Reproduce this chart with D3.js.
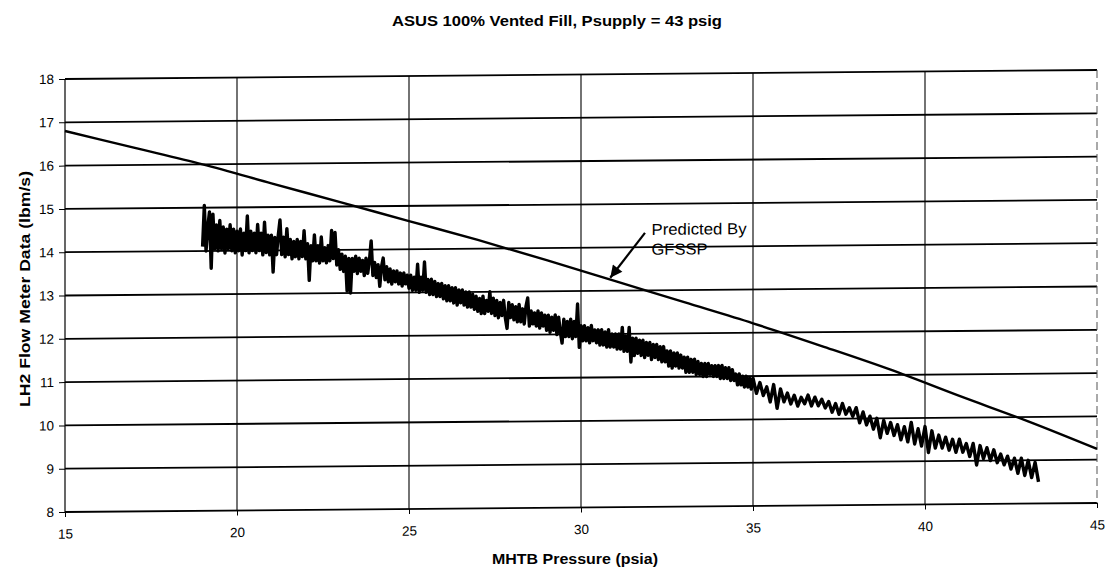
<!DOCTYPE html>
<html>
<head>
<meta charset="utf-8">
<script src="https://cdn.jsdelivr.net/npm/d3@7"></script>
<style>
  body { margin: 0; background: #fff; }
  svg { display: block; }
  text { font-family: "Liberation Sans", Arial, sans-serif; fill: #000; }
</style>
</head>
<body>
<div id="chart"></div>
<script>
// GFSSP prediction
var predP = [15, 17, 19, 21, 23, 25, 27, 29, 31, 33, 35, 37, 39, 41, 43, 45];
var predF = [16.8, 16.4, 16.0, 15.55, 15.1, 14.65, 14.2, 13.72, 13.22, 12.72, 12.22, 11.68, 11.12, 10.5, 9.9, 9.25];

// flow meter trace (denser where the noise band is widest)
var measP = [
  19.00, 19.05, 19.10, 19.15, 19.20, 19.25, 19.30, 19.35, 19.40, 19.45,
  19.50, 19.55, 19.60, 19.65, 19.70, 19.75, 19.80, 19.85, 19.90, 19.95,
  20.00, 20.05, 20.10, 20.15, 20.20, 20.25, 20.30, 20.35, 20.40, 20.45,
  20.50, 20.55, 20.60, 20.65, 20.70, 20.75, 20.80, 20.85, 20.90, 20.95,
  21.00, 21.05, 21.10, 21.15, 21.20, 21.25, 21.30, 21.35, 21.40, 21.45,
  21.50, 21.55, 21.60, 21.65, 21.70, 21.75, 21.80, 21.85, 21.90, 21.95,
  22.00, 22.05, 22.10, 22.15, 22.20, 22.25, 22.30, 22.35, 22.40, 22.45,
  22.50, 22.55, 22.60, 22.65, 22.70, 22.75, 22.80, 22.85, 22.90, 22.95,
  23.00, 23.05, 23.10, 23.15, 23.20, 23.25, 23.30, 23.35, 23.40, 23.45,
  23.50, 23.55, 23.60, 23.65, 23.70, 23.75, 23.80, 23.85, 23.90, 23.95,
  24.00, 24.05, 24.10, 24.15, 24.20, 24.25, 24.30, 24.35, 24.40, 24.45,
  24.50, 24.55, 24.60, 24.65, 24.70, 24.75, 24.80, 24.85, 24.90, 24.95,
  25.00, 25.05, 25.10, 25.15, 25.20, 25.25, 25.30, 25.35, 25.40, 25.45,
  25.50, 25.55, 25.60, 25.65, 25.70, 25.75, 25.80, 25.85, 25.90, 25.95,
  26.00, 26.05, 26.10, 26.15, 26.20, 26.25, 26.30, 26.35, 26.40, 26.45,
  26.50, 26.55, 26.60, 26.65, 26.70, 26.75, 26.80, 26.85, 26.90, 26.95,
  27.00, 27.05, 27.10, 27.15, 27.20, 27.25, 27.30, 27.35, 27.40, 27.45,
  27.50, 27.55, 27.60, 27.65, 27.70, 27.75, 27.80, 27.85, 27.90, 27.95,
  28.00, 28.05, 28.10, 28.15, 28.20, 28.25, 28.30, 28.35, 28.40, 28.45,
  28.50, 28.55, 28.60, 28.65, 28.70, 28.75, 28.80, 28.85, 28.90, 28.95,
  29.00, 29.05, 29.10, 29.15, 29.20, 29.25, 29.30, 29.35, 29.40, 29.45,
  29.50, 29.55, 29.60, 29.65, 29.70, 29.75, 29.80, 29.85, 29.90, 29.95,
  30.00, 30.05, 30.10, 30.15, 30.20, 30.25, 30.30, 30.35, 30.40, 30.45,
  30.50, 30.55, 30.60, 30.65, 30.70, 30.75, 30.80, 30.85, 30.90, 30.95,
  31.00, 31.05, 31.10, 31.15, 31.20, 31.25, 31.30, 31.35, 31.40, 31.45,
  31.50, 31.55, 31.60, 31.65, 31.70, 31.75, 31.80, 31.85, 31.90, 31.95,
  32.00, 32.05, 32.10, 32.15, 32.20, 32.25, 32.30, 32.35, 32.40, 32.45,
  32.50, 32.55, 32.60, 32.65, 32.70, 32.75, 32.80, 32.85, 32.90, 32.95,
  33.00, 33.05, 33.10, 33.15, 33.20, 33.25, 33.30, 33.35, 33.40, 33.45,
  33.50, 33.55, 33.60, 33.65, 33.70, 33.75, 33.80, 33.85, 33.90, 33.95,
  34.00, 34.05, 34.10, 34.15, 34.20, 34.25, 34.30, 34.35, 34.40, 34.45,
  34.50, 34.55, 34.60, 34.65, 34.70, 34.75, 34.80, 34.85, 34.90, 34.95,
  35.0, 35.1, 35.2, 35.3, 35.4, 35.5, 35.6, 35.7, 35.8, 35.9,
  36.0, 36.1, 36.2, 36.3, 36.4, 36.5, 36.6, 36.7, 36.8, 36.9,
  37.0, 37.1, 37.2, 37.3, 37.4, 37.5, 37.6, 37.7, 37.8, 37.9,
  38.0, 38.1, 38.2, 38.3, 38.4, 38.5, 38.6, 38.7, 38.8, 38.9,
  39.0, 39.1, 39.2, 39.3, 39.4, 39.5, 39.6, 39.7, 39.8, 39.9,
  40.0, 40.1, 40.2, 40.3, 40.4, 40.5, 40.6, 40.7, 40.8, 40.9,
  41.0, 41.1, 41.2, 41.3, 41.4, 41.5, 41.6, 41.7, 41.8, 41.9,
  42.0, 42.1, 42.2, 42.3, 42.4, 42.5, 42.6, 42.7, 42.8, 42.9,
  43.0, 43.1, 43.2, 43.3
];
var measF = [
  14.1, 15.05, 14.0, 14.55, 14.9, 13.6, 14.85, 14.05, 14.6, 14.0,
  14.7, 14.05, 14.55, 13.95, 14.5, 14.05, 14.6, 14.0, 14.5, 13.95,
  14.45, 14.0, 14.5, 13.9, 14.4, 14.0, 14.8, 13.95, 14.45, 14.0,
  14.4, 13.95, 14.6, 14.0, 14.4, 13.9, 14.65, 13.95, 14.35, 13.9,
  14.35, 13.5, 14.3, 13.9, 14.35, 14.7, 13.9, 14.3, 13.85, 14.5,
  13.9, 14.25, 13.8, 14.2, 13.85, 14.25, 13.8, 14.2, 13.85, 14.45,
  13.8, 14.15, 13.3, 14.1, 13.75, 14.35, 13.75, 14.1, 13.7, 14.3,
  13.75, 14.05, 13.7, 14.1, 13.75, 14.45, 13.8, 14.4, 13.65, 14.0,
  13.55, 13.9, 13.5, 13.85, 13.05, 13.8, 13.0, 13.8, 13.5, 13.85,
  13.45, 13.8, 13.5, 13.75, 13.4, 13.8, 13.45, 13.75, 14.2, 13.4,
  13.7, 13.35, 13.65, 13.15, 13.6, 13.8, 13.3, 13.6, 13.25, 13.55,
  13.2, 13.5, 13.25, 13.5, 13.2, 13.45, 13.15, 13.45, 13.2, 13.4,
  13.1, 13.4, 13.05, 13.35, 13.05, 13.65, 13.0, 13.35, 13.05, 13.7,
  13.0, 13.3, 12.95, 13.3, 12.95, 13.25, 12.9, 13.2, 12.9, 13.2,
  12.85, 13.15, 12.8, 13.15, 12.8, 13.1, 12.75, 13.1, 12.7, 13.05,
  12.75, 13.05, 12.7, 13.0, 12.65, 13.0, 12.65, 12.95, 12.6, 12.9,
  12.55, 12.85, 12.5, 12.9, 12.5, 12.8, 12.55, 13.0, 12.5, 12.85,
  12.45, 12.8, 12.4, 12.75, 12.45, 12.8, 12.4, 12.15, 12.75, 12.4,
  12.7, 12.35, 12.65, 12.3, 12.7, 12.3, 12.6, 12.25, 12.65, 12.85,
  12.2, 12.55, 12.25, 12.5, 12.2, 12.55, 12.15, 12.5, 12.2, 12.45,
  12.1, 12.45, 12.05, 12.4, 12.1, 12.45, 12.0, 12.4, 12.05, 11.8,
  12.35, 11.95, 12.3, 11.95, 12.35, 11.9, 12.3, 11.95, 12.7, 11.7,
  12.2, 11.85, 12.2, 11.85, 12.15, 11.8, 12.2, 11.85, 12.1, 11.8,
  12.1, 11.75, 12.1, 11.75, 12.05, 11.7, 12.1, 11.7, 12.0, 11.7,
  12.0, 11.65, 12.0, 11.65, 12.15, 11.6, 11.95, 11.6, 12.15, 11.35,
  11.9, 11.5, 11.9, 11.55, 11.85, 11.5, 11.85, 11.45, 11.8, 11.5,
  11.8, 11.4, 11.75, 11.45, 11.75, 11.4, 11.7, 11.35, 11.7, 11.35,
  11.6, 11.25, 11.6, 11.2, 11.55, 11.25, 11.55, 11.2, 11.5, 11.2,
  11.45, 11.1, 11.45, 11.1, 11.4, 11.1, 11.4, 11.05, 11.35, 11.05,
  11.3, 11.0, 11.3, 11.0, 11.3, 11.05, 11.25, 11.0, 11.25, 11.0,
  11.25, 10.95, 11.25, 10.95, 11.2, 10.95, 11.2, 10.9, 11.15, 10.9,
  11.05, 10.8, 11.05, 10.8, 11.0, 10.75, 11.0, 10.75, 10.95, 10.7,
  10.95, 10.6, 10.85, 10.55, 10.75, 10.4, 10.8, 10.25, 10.7, 10.4,
  10.6, 10.35, 10.55, 10.3, 10.5, 10.35, 10.55, 10.3, 10.5, 10.3,
  10.45, 10.25, 10.4, 10.15, 10.35, 10.1, 10.35, 10.1, 10.25, 10.05,
  10.25, 9.9, 10.15, 9.85, 10.05, 9.75, 10.0, 9.55, 9.95, 9.65,
  9.9, 9.6, 9.85, 9.5, 9.8, 9.45, 9.9, 9.4, 9.75, 9.35,
  9.8, 9.2, 9.7, 9.3, 9.6, 9.3, 9.55, 9.25, 9.5, 9.2,
  9.5, 9.2, 9.4, 9.1, 9.4, 8.9, 9.35, 9.05, 9.3, 9.0,
  9.25, 8.95, 9.15, 8.9, 9.1, 8.8, 9.05, 8.7, 9.05, 8.65,
  9.0, 8.6, 8.95, 8.5
];

var xTicks = [15, 20, 25, 30, 35, 40, 45];
var yTicks = [8, 9, 10, 11, 12, 13, 14, 15, 16, 17, 18];

var w = 1107;
var h = 575;
var plotLeft = 65, plotRight = 1097, plotTop = 79, plotBottom = 512;

var svg = d3.select("#chart")
            .append("svg")
            .attr("width", w)
            .attr("height", h);

var x = d3.scaleLinear().domain([15, 45]).range([plotLeft, plotRight]);
var y = d3.scaleLinear().domain([8, 18]).range([plotBottom, plotTop]);

// the scanned page is slightly tilted, right side higher
var g = svg.append("g")
           .attr("transform", "translate(" + plotLeft + ",0) skewY(-0.5) translate(" + (-plotLeft) + ",0)");

// horizontal grid
g.selectAll("line.hgrid")
  .data(yTicks)
  .enter()
  .append("line")
  .attr("class", "hgrid")
  .attr("x1", plotLeft)
  .attr("x2", plotRight)
  .attr("y1", function(d) { return y(d); })
  .attr("y2", function(d) { return y(d); })
  .attr("stroke", "#000")
  .attr("stroke-width", 1.8);

// vertical grid
g.selectAll("line.vgrid")
  .data(xTicks.slice(1, -1))
  .enter()
  .append("line")
  .attr("class", "vgrid")
  .attr("x1", function(d) { return x(d); })
  .attr("x2", function(d) { return x(d); })
  .attr("y1", plotTop)
  .attr("y2", plotBottom)
  .attr("stroke", "#000")
  .attr("stroke-width", 1.1);

// left axis and faint right border
g.append("line")
  .attr("x1", plotLeft).attr("x2", plotLeft)
  .attr("y1", plotTop).attr("y2", plotBottom)
  .attr("stroke", "#000")
  .attr("stroke-width", 1.2);

g.append("line")
  .attr("x1", plotRight).attr("x2", plotRight)
  .attr("y1", plotTop).attr("y2", plotBottom)
  .attr("stroke", "#555")
  .attr("stroke-width", 1)
  .attr("stroke-dasharray", "8,4");

var yAxis = d3.axisLeft(y)
              .tickValues(yTicks)
              .tickSize(6)
              .tickPadding(5);

g.append("g")
  .attr("transform", "translate(" + plotLeft + ",0)")
  .call(yAxis)
  .call(function(s) {
    s.select(".domain").remove();
    s.selectAll("text").attr("font-size", "13.5px").attr("font-family", "Liberation Sans, Arial, sans-serif");
  });

var xAxis = d3.axisBottom(x)
              .tickValues(xTicks)
              .tickSize(5)
              .tickPadding(12);

g.append("g")
  .attr("transform", "translate(0," + plotBottom + ")")
  .call(xAxis)
  .call(function(s) {
    s.select(".domain").remove();
    s.selectAll("text").attr("font-size", "13.5px").attr("font-family", "Liberation Sans, Arial, sans-serif");
  });

// predicted curve
var predLine = d3.line()
                 .x(function(d) { return x(d[0]); })
                 .y(function(d) { return y(d[1]); })
                 .curve(d3.curveMonotoneX);

g.append("path")
  .datum(d3.zip(predP, predF))
  .attr("d", predLine)
  .attr("fill", "none")
  .attr("stroke", "#000")
  .attr("stroke-width", 2.4);

// measured trace
var measLine = d3.line()
                 .x(function(d) { return x(d[0]); })
                 .y(function(d) { return y(d[1]); });

g.append("path")
  .datum(d3.zip(measP, measF))
  .attr("d", measLine)
  .attr("fill", "none")
  .attr("stroke", "#000")
  .attr("stroke-width", 3.4)
  .attr("stroke-linejoin", "round");

// annotation arrow
svg.append("defs")
  .append("marker")
  .attr("id", "head")
  .attr("viewBox", "0 0 10 10")
  .attr("refX", 10)
  .attr("refY", 5)
  .attr("markerWidth", 18)
  .attr("markerHeight", 12)
  .attr("markerUnits", "userSpaceOnUse")
  .attr("orient", "auto")
  .append("path")
  .attr("d", "M0,0 L10,5 L0,10 Z")
  .attr("fill", "#000");

g.append("line")
  .attr("x1", x(31.86)).attr("y1", y(14.33))
  .attr("x2", x(30.85)).attr("y2", y(13.3))
  .attr("stroke", "#000")
  .attr("stroke-width", 2.2)
  .attr("marker-end", "url(#head)");

g.append("text")
  .attr("x", x(32.05))
  .attr("y", y(14.28))
  .attr("font-size", "16px")
  .attr("textLength", 95)
  .attr("lengthAdjust", "spacingAndGlyphs")
  .text("Predicted By");

g.append("text")
  .attr("x", x(32.05))
  .attr("y", y(13.82))
  .attr("font-size", "16px")
  .attr("textLength", 56)
  .attr("lengthAdjust", "spacingAndGlyphs")
  .text("GFSSP");

// titles
svg.append("text")
  .attr("x", 557)
  .attr("y", 26)
  .attr("text-anchor", "middle")
  .attr("font-size", "15px")
  .attr("font-weight", "bold")
  .attr("textLength", 330)
  .attr("lengthAdjust", "spacingAndGlyphs")
  .text("ASUS 100% Vented Fill, Psupply = 43 psig");

svg.append("text")
  .attr("x", 575)
  .attr("y", 564)
  .attr("text-anchor", "middle")
  .attr("font-size", "14px")
  .attr("font-weight", "bold")
  .attr("textLength", 166)
  .attr("lengthAdjust", "spacingAndGlyphs")
  .text("MHTB Pressure (psia)");

svg.append("text")
  .attr("transform", "translate(30,289) rotate(-90)")
  .attr("text-anchor", "middle")
  .attr("font-size", "15px")
  .attr("font-weight", "bold")
  .attr("textLength", 236)
  .attr("lengthAdjust", "spacingAndGlyphs")
  .text("LH2 Flow Meter Data (lbm/s)");
</script>
</body>
</html>
